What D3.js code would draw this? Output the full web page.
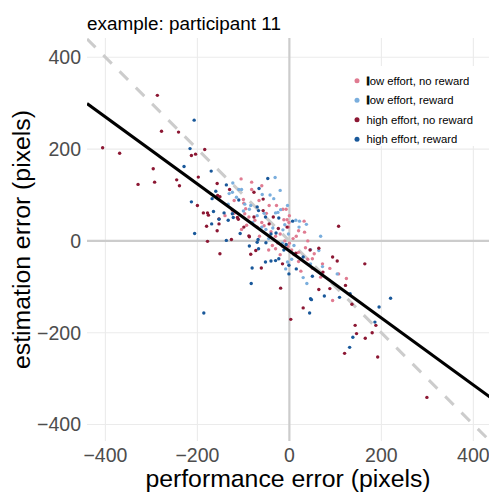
<!DOCTYPE html>
<meta charset="utf-8">
<style>
body { margin: 0; background: #fff; }
text { font-family: "Liberation Sans", Arial, sans-serif; }
</style>
<svg width="489" height="493"></svg>
<script src="https://cdn.jsdelivr.net/npm/d3@7"></script>
<script>

// performance error vs estimation error, [x, y] in pixels
var lowNoReward = [[-105,135],[-82,112],[-120,88],[-99,82],[-100,90],[-66,88],[-44,77],[-28,77],[-97,59],[-88,52],
  [-70,30],[-104,25],[-93,34],[-14,69],[-7,69],[-12,46],[-5,46],[-1,40],[-2,30],[32,43],[33,19],[-60,40],[-55,33],
  [-40,20],[-30,10],[-20,15],[-37,-10],[-30,-17],[-15,-12],[-10,0],[0,-5],[5,-20],[10,-30],[20,-25],[25,-66],[20,-45],
  [40,-40],[54,-28],[50,-39],[72,-50],[68,-79],[94,-130],[124,-82],[107,-72],[50,-60],[35,-15],[15,10],[-120,60],
  [-95,70],[-50,60],[-75,45],[-65,10],[-20,-30],[-45,-20],[8,5],[-3,-12],[40,0],[88,-60],[-82,128],[-140,55],
  [-60,120],[0,55],[20,22],[-25,-5]];
var lowReward = [[-123,126],[-131,103],[-110,112],[-104,112],[-97,80],[-87,69],[-124,106],[-84,77],[-31,138],[-59,101],
  [-34,92],[-4,77],[-19,68],[-30,61],[-25,62],[14,45],[22,43],[37,36],[21,30],[-60,30],[-51,25],[-36,28],[-14,24],
  [-2,15],[-45,5],[-8,-61],[-4,-46],[25,-40],[46,-50],[38,-93],[68,10],[72,-56],[104,-72],[46,-19],[64,-21],[-15,-5],
  [10,-10],[-70,55],[-80,40],[-55,60],[30,-80],[-42,100],[-10,35],[5,-40],[-100,65],[-115,95],[-133,80],[-20,110]];
var highNoReward = [[-406,203],[-369,191],[-287,317],[-278,239],[-241,237],[-213,186],[-204,189],[-184,199],[-296,157],
  [-329,123],[-293,128],[-245,133],[-239,120],[-198,139],[-157,125],[-156,99],[-151,96],[-200,77],[-187,61],[-178,61],
  [-176,56],[-153,48],[-180,32],[-157,22],[-153,37],[-178,-1],[-130,112],[-113,51],[-111,47],[-99,30],[-88,11],[-77,106],
  [-77,52],[-57,91],[-57,66],[-44,37],[-24,27],[-124,67],[-126,3],[-87,9],[-73,-21],[-151,-28],[-84,-29],[-61,-59],
  [-15,-50],[-19,-103],[14,-27],[107,32],[64,-16],[94,-35],[104,-44],[164,-50],[73,-68],[88,-104],[64,-106],[122,-97],
  [136,-138],[30,-146],[3,-171],[143,-184],[188,-184],[146,-202],[180,-200],[165,-212],[120,-245],[192,-253],[299,-341],
  [-35,52],[-5,30],[45,-20]];
var highReward = [[-229,162],[-207,263],[-216,201],[-170,152],[-137,122],[-160,108],[-168,92],[-213,85],[-206,16],
  [-165,64],[-142,61],[-169,37],[-137,1],[-133,45],[-124,59],[-122,51],[-110,89],[-107,16],[-87,-11],[-70,-3],[-51,-4],
  [-66,114],[-47,136],[-70,74],[-67,66],[-52,52],[-23,50],[7,43],[-7,-8],[-68,3],[-67,-17],[-23,-39],[-52,-46],[-40,-44],
  [-30,-43],[-1,-53],[-1,-72],[15,-61],[50,-77],[76,-120],[46,-126],[132,-115],[109,-123],[48,-128],[44,-157],[220,-125],
  [195,-144],[186,-177],[138,-210],[131,-232],[-186,-157],[-81,-59],[-83,-93],[-29,17],[-12,-20],[30,-35],[-40,15],[-153,47]];

var groups = ["low effort, no reward", "low effort, reward", "high effort, no reward", "high effort, reward"];
var groupColors = ["#e07b91", "#7aaedd", "#8c1733", "#19589a"];
var ticks = [-400, -200, 0, 200, 400];

// fitted line: estimation = intercept + slope * performance
var fitIntercept = -22, fitSlope = -0.73;

var svg = d3.select("svg");
var pLeft = 87, pRight = 489, pTop = 38, pBottom = 441;

var x = d3.scaleLinear().domain([-440, 434]).range([pLeft, pRight]);
var y = d3.scaleLinear().domain([-436, 442]).range([pBottom, pTop]);

svg.append("clipPath").attr("id", "panel")
  .append("rect").attr("x", pLeft).attr("y", pTop).attr("width", pRight - pLeft).attr("height", pBottom - pTop);

var nonZero = ticks.filter(function(d) { return d != 0; });

// grid
svg.append("g").selectAll("line").data(nonZero)
  .enter().append("line")
  .attr("x1", function(d) { return x(d); }).attr("x2", function(d) { return x(d); })
  .attr("y1", pTop).attr("y2", pBottom)
  .attr("stroke", "#ebebeb").attr("stroke-width", 1.1);
svg.append("g").selectAll("line").data(nonZero)
  .enter().append("line")
  .attr("y1", function(d) { return y(d); }).attr("y2", function(d) { return y(d); })
  .attr("x1", pLeft).attr("x2", pRight)
  .attr("stroke", "#ebebeb").attr("stroke-width", 1.1);

// zero lines
svg.append("line").attr("x1", x(0)).attr("x2", x(0)).attr("y1", pTop).attr("y2", pBottom)
  .attr("stroke", "#cccccc").attr("stroke-width", 2.2);
svg.append("line").attr("y1", y(0)).attr("y2", y(0)).attr("x1", pLeft).attr("x2", pRight)
  .attr("stroke", "#cccccc").attr("stroke-width", 2.2);

var plot = svg.append("g").attr("clip-path", "url(#panel)");

// y = -x reference
plot.append("line")
  .attr("x1", x(-440)).attr("y1", y(440))
  .attr("x2", x(440)).attr("y2", y(-440))
  .attr("stroke", "#cccccc").attr("stroke-width", 3)
  .attr("stroke-dasharray", "12,11");

[lowNoReward, lowReward, highNoReward, highReward].forEach(function(data, i) {
  plot.append("g").selectAll("circle").data(data)
    .enter().append("circle")
    .attr("cx", function(d) { return x(d[0]); })
    .attr("cy", function(d) { return y(d[1]); })
    .attr("r", 1.7)
    .attr("fill", groupColors[i]);
});

// fit
plot.append("line")
  .attr("x1", x(-440)).attr("y1", y(fitIntercept + fitSlope * -440))
  .attr("x2", x(440)).attr("y2", y(fitIntercept + fitSlope * 440))
  .attr("stroke", "#000").attr("stroke-width", 3);

// tick labels
function fmt(d) { return d < 0 ? "\u2212" + (-d) : d; }
svg.append("g").selectAll("text").data(ticks).enter().append("text")
  .attr("x", function(d) { return x(d); })
  .attr("y", 462)
  .attr("text-anchor", "middle")
  .attr("font-size", "19.5px")
  .attr("fill", "#4d4d4d")
  .text(fmt);
svg.append("g").selectAll("text").data(ticks).enter().append("text")
  .attr("x", 81)
  .attr("y", function(d) { return y(d); })
  .attr("dy", "0.36em")
  .attr("text-anchor", "end")
  .attr("font-size", "19.5px")
  .attr("fill", "#4d4d4d")
  .text(fmt);

// axis titles
svg.append("text")
  .attr("x", (pLeft + pRight) / 2).attr("y", 487)
  .attr("text-anchor", "middle").attr("font-size", "24.8px").attr("fill", "#000")
  .text("performance error (pixels)");
svg.append("text")
  .attr("transform", "translate(30," + ((pTop + pBottom) / 2) + ") rotate(-90)")
  .attr("text-anchor", "middle").attr("font-size", "24.8px").attr("fill", "#000")
  .text("estimation error (pixels)");

svg.append("text")
  .attr("x", 87).attr("y", 29.5)
  .attr("font-size", "18.9px").attr("fill", "#000")
  .text("example: participant 11");

// legend
var legend = svg.append("g");
legend.append("rect").attr("x", 347).attr("y", 66).attr("width", 138).attr("height", 80).attr("fill", "#fff");
var items = legend.selectAll("g.item").data(groups).enter().append("g")
  .attr("transform", function(d, i) { return "translate(357," + (80.7 + 19.5 * i) + ")"; });
items.append("circle").attr("r", 2.5).attr("fill", function(d, i) { return groupColors[i]; });
var labels = items.append("text")
  .attr("x", 9.5).attr("dy", "0.36em")
  .attr("font-size", "11.3px").attr("fill", "#000");
labels.each(function(d) {
  var t = d3.select(this);
  if (d.indexOf("low") == 0) {
    t.append("tspan").attr("font-weight", "bold").attr("stroke", "#000").attr("stroke-width", 0.8).text("l");
    t.append("tspan").text(d.slice(1));
  } else {
    t.text(d);
  }
});

</script>
